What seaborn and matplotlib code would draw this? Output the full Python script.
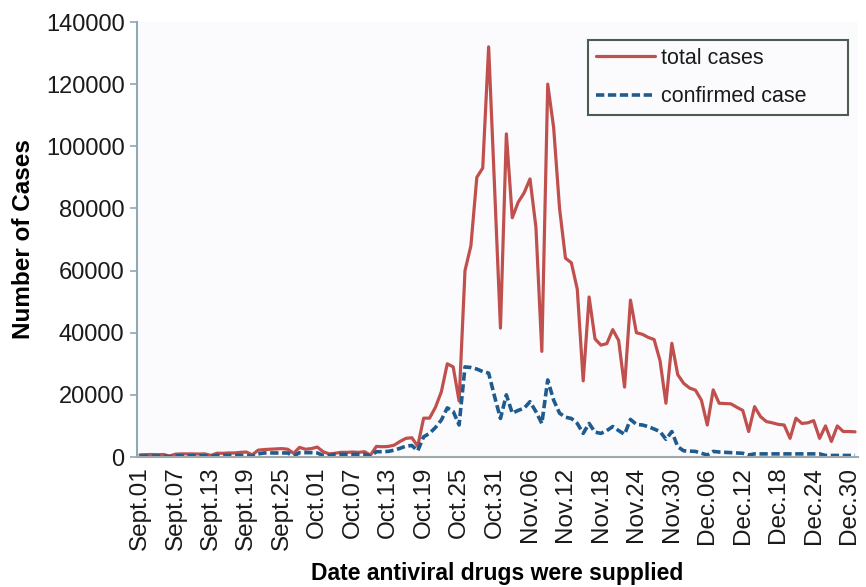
import numpy as np
import pandas as pd
import matplotlib
matplotlib.use("Agg")
import matplotlib.pyplot as plt
import seaborn as sns

# ---- data ----
tick_labels = ["Sept.01", "Sept.07", "Sept.13", "Sept.19", "Sept.25", "Oct.01", "Oct.07",
               "Oct.13", "Oct.19", "Oct.25", "Oct.31", "Nov.06", "Nov.12", "Nov.18",
               "Nov.24", "Nov.30", "Dec.06", "Dec.12", "Dec.18", "Dec.24", "Dec.30"]

total_cases = [
    700, 750, 800, 750, 800, 300, 900, 1000, 1000, 1000,
    950, 1000, 500, 1200, 1200, 1300, 1300, 1500, 1600, 700,
    2200, 2400, 2500, 2600, 2700, 2500, 1200, 3100, 2500, 2700,
    3200, 1700, 1000, 1200, 1500, 1500, 1600, 1500, 1700, 600,
    3400, 3300, 3400, 3800, 5000, 6000, 6200, 3500, 12500, 12500,
    16000, 21000, 30000, 29000, 18000, 60000, 68000, 90000, 93000, 132000,
    87000, 41500, 104000, 77000, 82000, 85000, 89500, 74000, 34000, 120000,
    106000, 80000, 64000, 62500, 54000, 24500, 51500, 38000, 36000, 36500,
    41000, 37500, 22500, 50500, 40000, 39500, 38500, 37800, 31000, 17300,
    36600, 26500, 23700, 22200, 21500, 18300, 10300, 21600, 17300, 17200,
    17100, 16000, 15000, 8200, 16200, 13000, 11400, 11000, 10500, 10300,
    6000, 12500, 10800, 11000, 11700, 6000, 10000, 5000, 10000, 8200,
    8200, 8100]

confirmed_case = [
    300, 300, 300, 300, 300, 100, 400, 400, 400, 400,
    400, 400, 200, 500, 500, 500, 500, 500, 500, 200,
    1000, 1300, 1300, 1300, 1300, 1300, 300, 1400, 1400, 1400,
    1300, 500, 400, 850, 850, 850, 850, 850, 850, 300,
    1700, 1700, 1800, 2200, 2800, 3500, 3700, 2000, 6500, 7600,
    9500, 11900, 15800, 14700, 10300, 29000, 28800, 28300, 27500, 27000,
    19500, 12400, 20000, 14100, 15000, 15700, 17800, 14600, 10800, 24800,
    18300, 14100, 12800, 12400, 10800, 7600, 10800, 8000, 7600, 8500,
    9800, 8500, 7300, 12100, 10500, 10300, 9800, 9000, 8200, 5700,
    8200, 3300, 2000, 1900, 1800, 1200, 650, 1800, 1600, 1500,
    1400, 1300, 1200, 650, 1000, 1000, 1000, 1000, 1000, 1000,
    1000, 1000, 1000, 1000, 1000, 1000, 500, 500, 500, 500,
    500, 500]

day = list(range(len(total_cases)))
df = pd.DataFrame({"day": day, "total": total_cases, "confirmed": confirmed_case})

# ---- style ----
sns.set_theme(style="white")
plt.rcParams["font.family"] = ["Liberation Sans", "DejaVu Sans"]

fig = plt.figure(figsize=(8.66, 5.87), dpi=100, facecolor="white")
ax = fig.add_axes([137 / 866, 1 - 457 / 587, 721 / 866, 435 / 587])
ax.set_facecolor("#fbfbfd")

red = "#c0504d"
blue = "#1f5b8e"

sns.lineplot(data=df, x="day", y="total", ax=ax, color=red, linewidth=2.3,
             label="total cases")
sns.lineplot(data=df, x="day", y="confirmed", ax=ax, color=blue, linewidth=2.6,
             label="confirmed case")
ax.lines[1].set_dashes((2.3, 1.0))

ax.set_xlim(-0.5, len(day) - 0.5)
ax.set_ylim(0, 140000)
ax.set_yticks(np.arange(0, 140001, 20000))
ax.set_yticklabels([str(v) for v in range(0, 140001, 20000)], fontsize=17, color="#1a1a1a")
ax.set_xticks(range(0, 121, 6))
ax.set_xticklabels(tick_labels, rotation=90, fontsize=17.5, color="#1a1a1a")

ax.tick_params(axis="y", direction="out", length=5, width=1.2, color="#8fa8b5", pad=4, left=True)
ax.tick_params(axis="x", length=0, pad=7)

for s in ["top", "right"]:
    ax.spines[s].set_visible(False)
ax.spines["left"].set_color("#8fa8b5")
ax.spines["left"].set_linewidth(1.5)
ax.spines["bottom"].set_color("#a0a8ac")
ax.spines["bottom"].set_linewidth(1.5)

ax.set_ylabel("Number of Cases", fontsize=17.5, fontweight="bold", labelpad=8, color="black")
ax.set_xlabel("Date antiviral drugs were supplied", fontsize=16.5, fontweight="bold",
              labelpad=8, color="black")

leg = ax.legend(loc="upper left", bbox_to_anchor=(0.6255, 0.786, 0.3605, 0.1726),
                mode="expand", fontsize=15.5, frameon=True, fancybox=False,
                handlelength=2.75, handletextpad=0.3, borderpad=0.35,
                labelspacing=0.82, borderaxespad=0)
frame = leg.get_frame()
frame.set_edgecolor("#4a5d50")
frame.set_linewidth(1.5)
frame.set_facecolor("#fbfbfd")
frame.set_alpha(1)
for t in leg.get_texts():
    t.set_color("#1a1a1a")

fig.savefig("out.png", dpi=100, facecolor="white")
